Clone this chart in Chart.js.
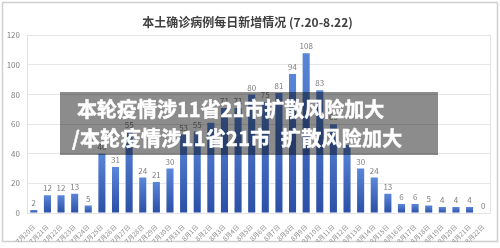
<!DOCTYPE html>
<html>
<head>
<meta charset="utf-8">
<script src="https://cdn.jsdelivr.net/npm/chart.js@4/dist/chart.umd.min.js"></script>
<style>
  html, body { margin: 0; padding: 0; background: #fff; }
  #wrap { position: relative; width: 500px; height: 248px; }
  #overlay {
    position: absolute; left: 60px; top: 92px; width: 378px; height: 63px;
    background: rgba(0,0,0,0.45);
    color: #fff; font-family: "Noto Sans CJK SC", sans-serif; font-weight: 700;
    font-size: 20px; line-height: 29px; box-sizing: border-box; padding: 2px 0 0 12px;
    white-space: nowrap; -webkit-text-stroke: 0.5px #fff;
  }
  #overlay div:first-child { padding-left: 5px; }
  #overlay div:last-child { letter-spacing: 0.3px; }
</style>
</head>
<body>
<div id="wrap">
  <canvas id="c" width="500" height="248"></canvas>
  <div id="overlay">
    <div>本轮疫情涉11省21市扩散风险加大</div>
    <div>/本轮疫情涉11省21市&ensp;扩散风险加大</div>
  </div>
</div>
<script>
const titleText = "本土确诊病例每日新增情况 (7.20-8.22)";
const categories = [
  "7月20日","7月21日","7月22日","7月23日","7月24日","7月25日","7月26日","7月27日",
  "7月28日","7月29日","7月30日","7月31日",
  "8月1日","8月2日","8月3日","8月4日","8月5日","8月6日","8月7日","8月8日",
  "8月9日","8月10日","8月11日","8月12日","8月13日","8月14日","8月15日","8月16日",
  "8月17日","8月18日","8月19日","8月20日","8月21日","8月22日"
];
const newCases = [
  2, 12, 12, 13, 5, 40, 31, 55,
  24, 21, 30, 53,
  55, 61, 71, 71, 80, 75, 81, 94,
  108, 83, 60, 46, 30, 24, 13, 6,
  6, 5, 4, 4, 4, 0
];
const yTicks = [0, 20, 40, 60, 80, 100, 120];

const FONT = "'Noto Sans CJK SC', 'Noto Sans', sans-serif";

const framePlugin = {
  id: 'frame',
  beforeDraw(chart) {
    const ctx = chart.ctx;
    ctx.save();
    ctx.fillStyle = '#fff';
    ctx.fillRect(0, 0, chart.width, chart.height);
    ctx.strokeStyle = '#cfcfcf';
    ctx.lineWidth = 1.5;
    ctx.strokeRect(2.5, 2.5, 495, 239);
    ctx.restore();
  },
  afterDraw(chart) {
    const a = chart.chartArea;
    const ctx = chart.ctx;
    ctx.save();
    ctx.strokeStyle = '#e3e3e3';
    ctx.lineWidth = 1;
    ctx.strokeRect(Math.round(a.left) + 0.5, Math.round(a.top) + 0.5,
                   Math.round(a.right - a.left), Math.round(a.bottom - a.top));
    ctx.restore();
  }
};

const labelPlugin = {
  id: 'barLabels',
  afterDatasetsDraw(chart) {
    const ctx = chart.ctx;
    const meta = chart.getDatasetMeta(0);
    ctx.save();
    ctx.fillStyle = '#7f7f7f';
    ctx.font = "8px " + FONT;
    ctx.textAlign = 'center';
    ctx.textBaseline = 'bottom';
    meta.data.forEach((bar, i) => {
      ctx.fillText(String(newCases[i]), bar.x, bar.y - 3);
    });
    ctx.restore();
  }
};

new Chart(document.getElementById('c'), {
  type: 'bar',
  data: {
    labels: categories,
    datasets: [{
      data: newCases,
      backgroundColor(context) {
        const chart = context.chart;
        const ys = chart.scales && chart.scales.y;
        if (!ys || context.raw === undefined) return '#3a62b8';
        const top = ys.getPixelForValue(context.raw);
        const base = ys.getPixelForValue(0);
        if (!isFinite(top) || !isFinite(base) || base - top < 1) return '#3a62b8';
        const g = chart.ctx.createLinearGradient(0, top, 0, base);
        g.addColorStop(0, '#5a87da');
        g.addColorStop(1, '#2b4fa6');
        return g;
      },
      borderWidth: 0,
      categoryPercentage: 1.0,
      barPercentage: 0.52
    }]
  },
  options: {
    responsive: false,
    animation: false,
    devicePixelRatio: 1,
    layout: { padding: { left: 5, right: 10, top: 0, bottom: 6 } },
    plugins: {
      legend: { display: false },
      tooltip: { enabled: false },
      title: {
        display: true,
        text: titleText,
        color: '#404040',
        font: { family: FONT, size: 12, weight: 'bold', lineHeight: 1.2 },
        padding: { top: 15, bottom: 6 }
      }
    },
    scales: {
      x: {
        grid: { display: false },
        border: { display: true, color: '#d9d9d9' },
        ticks: {
          color: '#8c8c8c',
          font: { family: FONT, size: 6.5 },
          minRotation: 45,
          maxRotation: 45,
          autoSkip: false,
          padding: 2
        },
        afterFit(s) { s.height = 29; }
      },
      y: {
        min: 0,
        max: 120,
        afterBuildTicks(s) { s.ticks = yTicks.map(v => ({ value: v })); },
        grid: { color: '#e6e6e6', drawTicks: false },
        border: { display: false },
        ticks: {
          color: '#808080',
          font: { family: FONT, size: 8 },
          padding: 7
        },
        afterFit(s) { s.width = 22; }
      }
    }
  },
  plugins: [framePlugin, labelPlugin]
});
</script>
</body>
</html>
